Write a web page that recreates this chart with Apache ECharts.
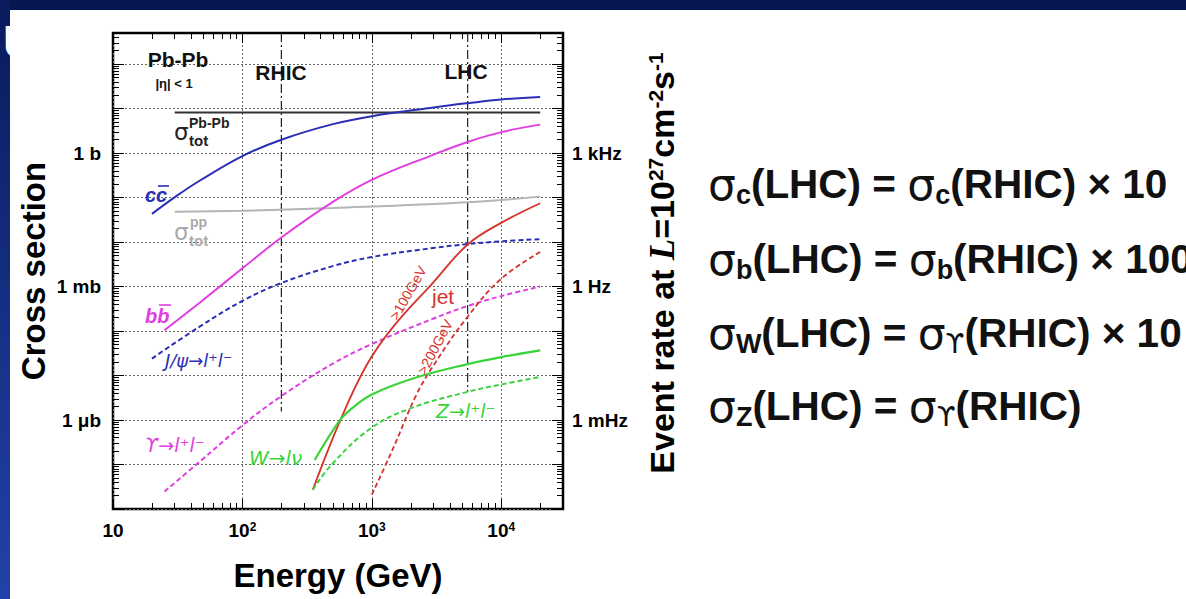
<!DOCTYPE html>
<html><head><meta charset="utf-8">
<script src="https://cdn.jsdelivr.net/npm/echarts@6.0.0/dist/echarts.min.js"></script>
<style>html,body{margin:0;padding:0;background:#fff;overflow:hidden}#c{width:1186px;height:599px}</style>
</head><body><div id="c"></div>
<script>
// ---------- data (energy in GeV, cross section in barn) ----------
const energyRange = [10, 30000];
const sigmaRange = [1e-8, 500];
const xMajorTicks = [10, 100, 1000, 10000];
const xTickLabels = ['10', '10{p|2}', '10{p|3}', '10{p|4}'];
const yMajorTicks = [1, 1e-3, 1e-6];
const crossSectionLabels = ['1 b', '1 mb', '1 \u03bcb'];
const eventRateLabels = ['1 kHz', '1 Hz', '1 mHz'];
const xDecades = [10, 100, 1000, 10000];
const yDecades = [1e-8, 1e-7, 1e-6, 1e-5, 1e-4, 1e-3, 1e-2, 1e-1, 1, 10, 100];
const minorMultipliers = [2, 3, 4, 5, 6, 7, 8, 9];

const sigmaTotPbPb = [[30, 8.2], [20000, 8.2]];
const sigmaTotPP = [[30, 0.048], [100, 0.0505], [500, 0.0585], [5500, 0.0785], [20000, 0.105]];
const ccbar = [[20, 0.0429], [31, 0.109], [47, 0.242], [100, 0.857], [200, 2.0], [500, 4.47], [1000, 6.75], [3000, 10.6], [5500, 13.2], [10000, 16.0], [20000, 18.3]];
const bbbar = [[25, 1.04e-4], [47, 4.4e-4], [100, 2.57e-3], [200, 0.0127], [500, 0.080], [1000, 0.251], [3000, 0.926], [5500, 1.78], [10000, 2.96], [20000, 4.36]];
const jpsi = [[20, 2.4e-5], [47, 1.27e-4], [100, 4.75e-4], [200, 1.2e-3], [500, 2.88e-3], [1000, 4.61e-3], [3000, 7.38e-3], [5500, 9.0e-3], [10000, 0.0104], [20000, 0.0116]];
const upsilon = [[25, 2.47e-8], [47, 1.17e-7], [100, 7.6e-7], [200, 3.45e-6], [500, 1.85e-5], [1000, 5.1e-5], [3000, 1.91e-4], [5500, 3.66e-4], [10000, 6.1e-4], [20000, 1.0e-3]];
const jet100 = [[350, 2.7e-8], [565, 9.2e-7], [910, 1.7e-5], [1460, 1.24e-4], [3000, 1.26e-3], [5500, 8.8e-3], [10000, 0.027], [20000, 0.0745]];
const jet200 = [[1000, 2.1e-8], [1460, 2.3e-7], [2200, 3.6e-6], [3000, 1.7e-5], [5500, 2.1e-4], [10000, 1.5e-3], [20000, 6.0e-3]];
const wBoson = [[362, 1.26e-7], [565, 9.8e-7], [700, 1.82e-6], [1000, 3.75e-6], [2080, 8.57e-6], [5500, 1.81e-5], [10000, 2.6e-5], [20000, 3.69e-5]];
const zBoson = [[350, 2.7e-8], [490, 1.0e-7], [960, 6.2e-7], [1960, 1.8e-6], [5500, 4.3e-6], [10000, 6.3e-6], [20000, 9.3e-6]];
const rhicMarker = [[200, 500], [200, 1.55e-6]];
const lhcMarker = [[5500, 500], [5500, 4.3e-6]];

// ---------- helpers ----------
const FONT = "'Liberation Sans', Arial, Helvetica, sans-serif";
const SIG = "'DejaVu Sans', sans-serif";
const minorOf = (decs, maxV) => decs.flatMap(d => minorMultipliers.map(m => +(d * m).toPrecision(3))).filter(v => v < maxV);
const xMinorTicks = minorOf(xDecades, energyRange[1]);
const yMinorTicks = minorOf(yDecades, sigmaRange[1]);
const findIdx = (arr, v) => arr.findIndex(t => Math.abs(Math.log10(t) - Math.log10(v)) < 1e-6);

const BLUE = '#2b2fb6', MAG = '#e03ee0', GREEN = '#3ad43a', RED = '#d6322a', GRAY = '#b5b5b5';

function curve(name, data, color, dashed, width) {
  return {
    name, type: 'line', data, xAxisIndex: 0, yAxisIndex: 0, symbol: 'none',
    smooth: 0.4, silent: true, z: 3, animation: false,
    lineStyle: { color, width: width || 2, type: dashed ? [5, 3] : 'solid' }
  };
}
function marker(name, data) {
  return {
    name, type: 'line', data, xAxisIndex: 0, yAxisIndex: 0, symbol: 'none', silent: true, z: 2,
    animation: false, lineStyle: { color: '#222', width: 1.2, type: [9, 3, 2, 3] }
  };
}

const tickStyle = { color: '#000', width: 1 };
function majorX(pos, withLabels) {
  return {
    type: 'log', logBase: 10, min: energyRange[0], max: energyRange[1], interval: 1, position: pos, gridIndex: 0,
    axisLine: { show: false },
    axisTick: { show: true, inside: true, length: 10, customValues: xMajorTicks, lineStyle: tickStyle },
    axisLabel: withLabels ? {
      show: true, customValues: xMajorTicks, margin: 12, color: '#000', fontFamily: FONT, fontWeight: 'bold', fontSize: 19,
      formatter: v => { const i = findIdx(xMajorTicks, v); return i >= 0 ? xTickLabels[i] : ''; },
      rich: { p: { fontSize: 12, fontWeight: 'bold', fontFamily: FONT, verticalAlign: 'top', lineHeight: 12, color: '#000' } }
    } : { show: false },
    splitLine: withLabels ? { show: true, lineStyle: { color: '#666', width: 1, type: [2, 2] } } : { show: false },
    name: withLabels ? 'Energy (GeV)' : '', nameLocation: 'middle', nameGap: 50,
    nameTextStyle: { fontFamily: FONT, fontWeight: 'bold', fontSize: 33, color: '#000' }
  };
}
function minorX(pos) {
  return {
    type: 'log', logBase: 10, min: energyRange[0], max: energyRange[1], interval: 1, position: pos, gridIndex: 0,
    axisLine: { show: false }, axisLabel: { show: false }, splitLine: { show: false },
    axisTick: { show: true, inside: true, length: 6, customValues: xMinorTicks, lineStyle: tickStyle }
  };
}
function majorY(pos, labels, name, gap) {
  return {
    type: 'log', logBase: 10, min: sigmaRange[0], max: sigmaRange[1], interval: 1, position: pos, gridIndex: 0,
    axisLine: { show: false },
    axisTick: { show: true, inside: true, length: 11, customValues: yDecades, lineStyle: tickStyle },
    axisLabel: {
      show: true, customValues: yMajorTicks, margin: pos === 'left' ? 12 : 9, color: '#000', fontFamily: FONT, fontWeight: 'bold', fontSize: 19,
      formatter: v => { const i = findIdx(yMajorTicks, v); return i >= 0 ? labels[i] : ''; }
    },
    splitLine: pos === 'left' ? { show: true, lineStyle: { color: '#666', width: 1, type: [2, 2] } } : { show: false },
    name, nameLocation: 'middle', nameGap: gap, nameRotate: 90,
    nameTextStyle: { fontFamily: FONT, fontWeight: 'bold', fontSize: 33, color: '#000' }
  };
}
function minorY(pos) {
  return {
    type: 'log', logBase: 10, min: sigmaRange[0], max: sigmaRange[1], interval: 1, position: pos, gridIndex: 0,
    axisLine: { show: false }, axisLabel: { show: false }, splitLine: { show: false },
    axisTick: { show: true, inside: true, length: 6, customValues: yMinorTicks, lineStyle: tickStyle }
  };
}

// text helpers for graphic annotations
function txt(text, x, y, o) {
  o = o || {};
  return {
    type: 'text', x, y, rotation: o.rot || 0, z: 50, silent: true,
    style: {
      text, x: 0, y: 0, fill: o.color || '#111', align: o.align || 'left', verticalAlign: 'middle',
      fontFamily: o.family || FONT, fontWeight: o.weight || 'bold', fontStyle: o.style || 'normal', fontSize: o.size || 16,
      rich: o.rich
    }
  };
}
function bar(x1, x2, y, color) {
  return { type: 'line', z: 50, silent: true, shape: { x1, y1: y, x2, y2: y }, style: { stroke: color, lineWidth: 1.6 } };
}

const richFormula = {
  m: { fontFamily: FONT, fontWeight: 'bold', fontSize: 40.5, lineHeight: 48, verticalAlign: 'middle', color: '#000' },
  s: { fontFamily: SIG, fontWeight: 'normal', fontSize: 44, lineHeight: 48, verticalAlign: 'middle', color: '#000' },
  b: { fontFamily: FONT, fontWeight: 'bold', fontSize: 27, lineHeight: 28, verticalAlign: 'bottom', color: '#000' },
  u: { fontFamily: SIG, fontWeight: 'normal', fontSize: 27, lineHeight: 28, verticalAlign: 'bottom', color: '#000' }
};
const richRate = {
  p: { fontFamily: FONT, fontWeight: 'bold', fontSize: 21, verticalAlign: 'top', lineHeight: 16, color: '#000' },
  i: { fontFamily: "'Liberation Serif', 'Times New Roman', serif", fontStyle: 'italic', fontWeight: 'bold', fontSize: 35, color: '#000' }
};

const graphics = [
  { type: 'rect', z: 100, silent: true, shape: { x: 0, y: 0, width: 1186, height: 10 }, style: { fill: '#061650' } },
  { type: 'rect', z: 100, silent: true, shape: { x: 0, y: 0, width: 10, height: 599 },
    style: { fill: new echarts.graphic.LinearGradient(0, 0, 0, 1, [{ offset: 0, color: '#0a1b5c' }, { offset: 1, color: '#2142a8' }]) } },
  Object.assign(txt('U', 3, 42, { size: 46, color: '#ffffff' }), { z: 101 }),

  txt('Pb-Pb', 178, 59, { size: 21, align: 'center' }),
  txt('|\u03b7| < 1', 174, 83, { size: 13, align: 'center' }),
  txt('RHIC', 281, 72, { size: 21, align: 'center' }),
  txt('LHC', 466, 71, { size: 21, align: 'center' }),

  txt('\u03c3', 174, 132, { size: 23, weight: 'normal', family: SIG, color: '#222' }),
  txt('Pb-Pb', 189, 123, { size: 14, color: '#222' }),
  txt('tot', 189, 140, { size: 15, color: '#222' }),
  txt('\u03c3', 174, 232, { size: 23, weight: 'normal', family: SIG, color: '#aaaaaa' }),
  txt('pp', 190, 222, { size: 14, color: '#aaaaaa' }),
  txt('tot', 189, 240, { size: 15, color: '#aaaaaa' }),

  txt('cc', 145, 195, { size: 20, style: 'italic', color: BLUE }),
  bar(158, 169, 186, BLUE),
  txt('bb', 145, 316, { size: 20, style: 'italic', color: MAG }),
  bar(159, 171, 305, MAG),
  txt('J/\u03c8\u2192l\u207al\u207b', 165, 360, { size: 18, style: 'italic', weight: 'normal', family: SIG, color: BLUE }),
  txt('\u03d2\u2192l\u207al\u207b', 145, 445, { size: 19, style: 'italic', weight: 'normal', family: SIG, color: MAG }),
  txt('W\u2192l\u03bd', 249, 458, { size: 20, style: 'italic', weight: 'normal', family: SIG, color: GREEN }),
  txt('Z\u2192l\u207al\u207b', 436, 411, { size: 19, style: 'italic', weight: 'normal', family: SIG, color: GREEN }),
  txt('jet', 432, 296, { size: 21, weight: 'normal', color: RED }),
  txt('>100GeV', 408, 293, { size: 14, weight: 'normal', color: RED, align: 'center', rot: Math.PI / 3 }),
  txt('>200GeV', 435, 347, { size: 14, weight: 'normal', color: RED, align: 'center', rot: Math.PI / 2.9 }),

  txt('Event rate at {i|L}=10{p|27}cm{p|-2}s{p|-1}', 662, 263, { size: 34, align: 'center', rot: Math.PI / 2, rich: richRate, color: '#000' }),

  txt('{s|\u03c3}{b|c}{m|(LHC) = }{s|\u03c3}{b|c}{m|(RHIC) \u00d7 10}', 708, 184, { rich: richFormula }),
  txt('{s|\u03c3}{b|b}{m|(LHC) = }{s|\u03c3}{b|b}{m|(RHIC) \u00d7 100}', 708, 259, { rich: richFormula }),
  txt('{s|\u03c3}{b|W}{m|(LHC) = }{s|\u03c3}{u|\u03d2}{m|(RHIC) \u00d7 10}', 708, 333, { rich: richFormula }),
  txt('{s|\u03c3}{b|Z}{m|(LHC) = }{s|\u03c3}{u|\u03d2}{m|(RHIC)}', 708, 406, { rich: richFormula })
];

const option = {
  backgroundColor: '#ffffff',
  animation: false,
  grid: { left: 113, top: 33, width: 450, height: 476, show: true, borderColor: '#000', borderWidth: 2.5, backgroundColor: 'transparent', containLabel: false, outerBoundsMode: 'none' },
  xAxis: [majorX('bottom', true), minorX('bottom'), majorX('top', false), minorX('top')],
  yAxis: [
    majorY('left', crossSectionLabels, 'Cross section', 63),
    minorY('left'),
    majorY('right', eventRateLabels, '', 82),
    minorY('right')
  ],
  series: [
    marker('RHIC', rhicMarker),
    marker('LHC', lhcMarker),
    curve('\u03c3tot Pb-Pb', sigmaTotPbPb, '#333333', false, 2),
    curve('\u03c3tot pp', sigmaTotPP, GRAY, false, 2),
    curve('c c\u0304', ccbar, BLUE, false, 2),
    curve('b b\u0304', bbbar, MAG, false, 2),
    curve('J/\u03c8 \u2192 l+l-', jpsi, BLUE, true, 2),
    curve('\u03a5 \u2192 l+l-', upsilon, MAG, true, 2),
    curve('jet > 100 GeV', jet100, RED, false, 1.8),
    curve('jet > 200 GeV', jet200, RED, true, 1.8),
    curve('W \u2192 l\u03bd', wBoson, GREEN, false, 2.2),
    curve('Z \u2192 l+l-', zBoson, GREEN, true, 2)
  ],
  graphic: { elements: graphics }
};

const chart = echarts.init(document.getElementById('c'), null, { renderer: 'svg', width: 1186, height: 599 });
chart.setOption(option);
</script></body></html>
